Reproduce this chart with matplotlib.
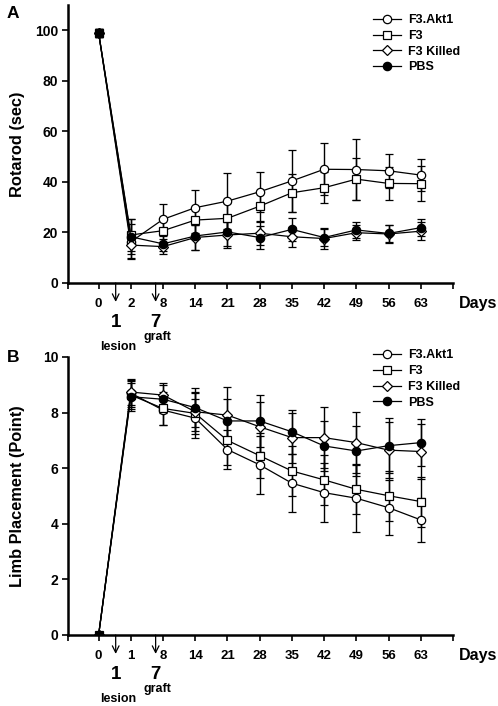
"""Rotarod and limb placement time courses for F3.Akt1 / F3 / F3 Killed / PBS grafts."""
import matplotlib
matplotlib.use("Agg")
import matplotlib.pyplot as plt
import numpy as np

plt.rcParams["font.family"] = ["Liberation Sans", "DejaVu Sans"]
plt.rcParams["font.weight"] = "bold"

GROUPS = ["F3.Akt1", "F3", "F3 Killed", "PBS"]
MARKERS = ["o", "s", "D", "o"]
FACES = ["white", "white", "white", "black"]
MSIZES = [6.0, 5.5, 5.0, 6.0]

# ---- Panel A: rotarod (sec) ------------------------------------------------
days_a = ["0", "2", "8", "14", "21", "28", "35", "42", "49", "56", "63"]
rot_akt1 = [99, 16.3, 25.2, 29.8, 32.4, 36.1, 40.4, 45.0, 44.9, 44.4, 42.7]
rot_f3 = [99, 19.0, 20.7, 24.9, 25.6, 30.4, 35.7, 37.7, 41.1, 39.4, 39.3]
rot_killed = [99, 15.0, 14.4, 18.0, 19.0, 19.7, 18.3, 17.6, 19.9, 19.4, 20.5]
rot_pbs = [99, 18.3, 15.5, 18.6, 20.2, 18.0, 21.2, 18.0, 21.0, 19.6, 21.9]
rot_akt1_err = [1.5, 7.0, 6.0, 7.0, 11.0, 8.0, 12.4, 10.2, 12.0, 6.8, 6.3]
rot_f3_err = [1.5, 6.5, 4.5, 5.0, 6.0, 6.0, 7.5, 6.2, 8.3, 6.4, 6.8]
rot_killed_err = [1.5, 5.0, 3.0, 5.0, 5.0, 4.5, 4.0, 4.0, 3.0, 3.5, 3.5]
rot_pbs_err = [1.5, 7.0, 3.0, 5.5, 5.5, 4.5, 4.5, 3.5, 3.0, 3.5, 3.5]

# ---- Panel B: limb placement (point) --------------------------------------
days_b = ["0", "1", "8", "14", "21", "28", "35", "42", "49", "56", "63"]
limb_akt1 = [0, 8.70, 8.09, 7.80, 6.67, 6.12, 5.46, 5.12, 4.92, 4.58, 4.14]
limb_f3 = [0, 8.63, 8.15, 7.97, 7.00, 6.45, 5.90, 5.58, 5.24, 5.01, 4.80]
limb_killed = [0, 8.74, 8.63, 8.03, 7.91, 7.49, 7.10, 7.10, 6.92, 6.65, 6.60]
limb_pbs = [0, 8.57, 8.48, 8.18, 7.70, 7.70, 7.31, 6.80, 6.62, 6.81, 6.92]
limb_akt1_err = [0, 0.5, 0.55, 0.7, 0.7, 1.05, 1.05, 1.05, 1.2, 1.0, 0.8]
limb_f3_err = [0, 0.5, 0.6, 0.75, 0.9, 0.8, 0.9, 0.9, 0.9, 0.9, 0.9]
limb_killed_err = [0, 0.45, 0.45, 0.7, 1.0, 0.9, 0.9, 1.1, 1.1, 1.0, 1.0]
limb_pbs_err = [0, 0.5, 0.5, 0.7, 0.8, 0.93, 0.8, 0.9, 0.9, 1.0, 0.85]


def draw_panel(ax, days, series, errs, ymax, yticks, ylabel):
    x = np.arange(len(days))
    for name, y, e, m, fc, ms in zip(GROUPS, series, errs, MARKERS, FACES, MSIZES):
        ax.errorbar(x, y, yerr=e, color="black", lw=0.9, elinewidth=1.0,
                    capsize=3.2, capthick=1.0, marker=m, mfc=fc, mec="black",
                    mew=0.9, ms=ms, label=name, zorder=3)
    ax.set_xlim(-0.95, len(days))
    ax.set_ylim(0, ymax)
    ax.set_xticks(x)
    ax.set_xticklabels(days, fontsize=9.5, fontweight="bold")
    ax.set_xticks([-0.95, len(days)], minor=True)
    ax.tick_params(axis="x", which="both", direction="out", length=4, width=1.2, pad=7)
    ax.set_yticks(yticks)
    ax.set_yticklabels([str(t) for t in yticks], fontsize=10, fontweight="bold")
    ax.tick_params(axis="y", direction="out", length=4, width=1.2, pad=3)
    for side in ("top", "right"):
        ax.spines[side].set_visible(False)
    for side in ("left", "bottom"):
        ax.spines[side].set_linewidth(1.8)
    ax.set_ylabel(ylabel, fontsize=11.8, fontweight="bold")
    ax.yaxis.set_label_coords(-0.112, 0.5)
    ax.text(1.015, -0.072, "Days", transform=ax.transAxes, fontsize=11.5,
            fontweight="bold", ha="left", va="center")

    # lesion (day 1) and graft (day 7) arrows with labels under the axis
    trans = ax.get_xaxis_transform()
    for xa, num, word, wy in [(0.53, "1", "lesion", -0.232), (1.77, "7", "graft", -0.195)]:
        ax.annotate("", xy=(xa, -0.068), xytext=(xa, 0.0), xycoords=trans,
                    textcoords=trans,
                    arrowprops=dict(arrowstyle="->", lw=0.9, color="black",
                                    mutation_scale=12, shrinkA=0, shrinkB=0),
                    annotation_clip=False)
        ax.text(xa, -0.143, num, transform=trans, fontsize=13.5, fontweight="bold",
                ha="center", va="center")
        ax.text(xa + 0.07, wy, word, transform=trans, fontsize=9,
                fontweight="bold", ha="center", va="center")


fig = plt.figure(figsize=(4.98, 7.06), dpi=100)
ax_a = fig.add_axes([68 / 498, 1 - 283 / 706, 385 / 498, 278 / 706])
ax_b = fig.add_axes([68 / 498, 1 - 635 / 706, 385 / 498, 278 / 706])

draw_panel(ax_a, days_a, [rot_akt1, rot_f3, rot_killed, rot_pbs],
           [rot_akt1_err, rot_f3_err, rot_killed_err, rot_pbs_err],
           110, [0, 20, 40, 60, 80, 100], "Rotarod (sec)")
draw_panel(ax_b, days_b, [limb_akt1, limb_f3, limb_killed, limb_pbs],
           [limb_akt1_err, limb_f3_err, limb_killed_err, limb_pbs_err],
           10, [0, 2, 4, 6, 8, 10], "Limb Placement (Point)")

for ax, anchor in [(ax_a, (0.78, 0.985)), (ax_b, (0.78, 1.045))]:
    handles, labels = ax.get_legend_handles_labels()
    handles = [h[0] for h in handles]
    leg = ax.legend(handles, labels, loc="upper left", bbox_to_anchor=anchor,
                    frameon=False, fontsize=9, handlelength=2.2,
                    handletextpad=0.6, labelspacing=0.3, borderaxespad=0)
    for t in leg.get_texts():
        t.set_fontweight("bold")

fig.text(13 / 498, 1 - 14 / 706, "A", fontsize=12.5, fontweight="bold",
         ha="center", va="center")
fig.text(13 / 498, 1 - 357 / 706, "B", fontsize=12.5, fontweight="bold",
         ha="center", va="center")

fig.savefig("out.png", dpi=100)
